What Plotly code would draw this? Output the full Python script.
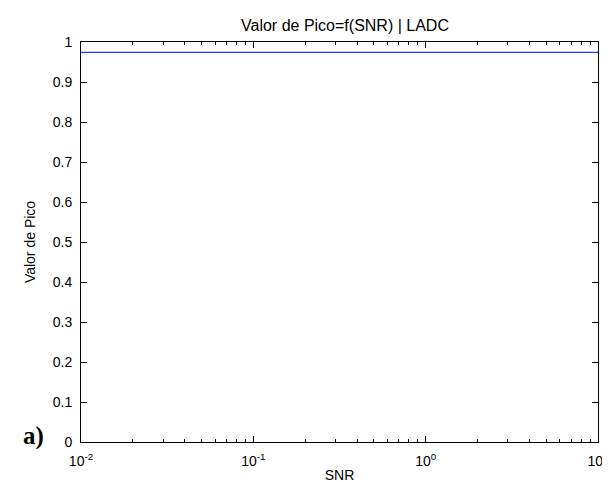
import plotly.graph_objects as go

snr = [0.01, 0.1, 1, 10]
peak = [0.974, 0.974, 0.974, 0.974]

x_tickvals = [0.01, 0.1, 1, 10]
x_ticktext = ["10<sup>-2</sup>", "10<sup>-1</sup>", "10<sup>0</sup>", "10<sup>1</sup>"]
x_minor = [m * d for d in [0.01, 0.1, 1] for m in range(2, 10)]
y_tickvals = [0, 0.1, 0.2, 0.3, 0.4, 0.5, 0.6, 0.7, 0.8, 0.9, 1]
y_ticktext = ["0", "0.1", "0.2", "0.3", "0.4", "0.5", "0.6", "0.7", "0.8", "0.9", "1"]

W, H = 610, 482
L, R, T, B = 73, 9, 34, 48

fig = go.Figure()
fig.add_trace(go.Scatter(x=snr, y=peak, mode="lines",
                         line=dict(color="#2b3cf0", width=1.2), showlegend=False))

font = "Liberation Sans, Arial, sans-serif"
fig.update_layout(
    width=W, height=H,
    margin=dict(l=L, r=R, t=T, b=B),
    paper_bgcolor="white", plot_bgcolor="white",
    font=dict(family=font, size=14, color="black"),
    title=dict(text="Valor de Pico=f(SNR) | LADC", x=(L + (W - L - R) / 2) / W, xanchor="center",
               xref="container", yref="container", y=1 - 17 / H, yanchor="middle",
               font=dict(size=16)),
    xaxis=dict(type="log", range=[-2, 1.00001], tickvals=x_tickvals, ticktext=x_ticktext,
               ticks="inside", ticklen=6, tickcolor="black", showgrid=False,
               showline=True, linecolor="black", linewidth=1, mirror="allticks",
               zeroline=False, ticklabelstandoff=6, ticklabeloverflow="allow",
               minor=dict(tickvals=x_minor, ticks="inside", ticklen=3, tickcolor="black",
                          showgrid=False),
               title=dict(text="SNR", standoff=2, font=dict(size=14))),
    yaxis=dict(range=[0, 1], tickvals=y_tickvals, ticktext=y_ticktext,
               ticks="inside", ticklen=6, tickcolor="black", showgrid=False,
               showline=True, linecolor="black", linewidth=1, mirror="allticks",
               zeroline=False, ticklabelstandoff=5,
               title=dict(text="Valor de Pico", standoff=13, font=dict(size=14))),
)
fig.add_annotation(text="<b>a)</b>", x=(24 - L) / (W - L - R), y=(H - B - 428) / (H - T - B),
                   xref="paper", yref="paper",
                   showarrow=False, xanchor="center", yanchor="middle",
                   font=dict(family="Liberation Serif, Times New Roman, serif", size=25, color="black"))
fig.write_html("out.html")
